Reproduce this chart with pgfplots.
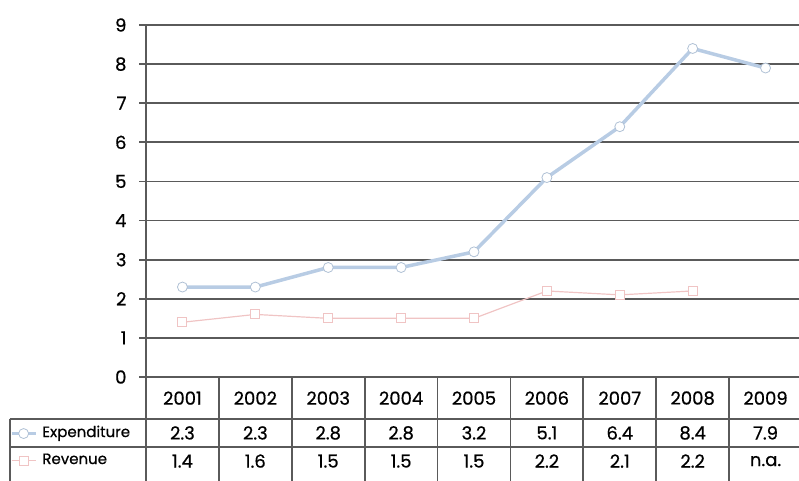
\documentclass[border=0pt]{standalone}
\usepackage{fontspec}
\setmainfont{Poppins}[FakeBold=0.6]
\usepackage{pgfplots}
\usepackage{pgfplotstable}
\pgfplotsset{compat=1.18}

\definecolor{expblue}{HTML}{B8CCE4}
\definecolor{revpink}{HTML}{F0C4C4}
\definecolor{gridgray}{HTML}{5A5A5A}

% year index, expenditure, revenue, and the labels shown in the table
\pgfplotstableread{
x year exp rev explab revlab
0 2001 2.3 1.4 2.3 1.4
1 2002 2.3 1.6 2.3 1.6
2 2003 2.8 1.5 2.8 1.5
3 2004 2.8 1.5 2.8 1.5
4 2005 3.2 1.5 3.2 1.5
5 2006 5.1 2.2 5.1 2.2
6 2007 6.4 2.1 6.4 2.1
7 2008 8.4 2.2 8.4 2.2
8 2009 7.9 nan 7.9 n.a.
}\budget

\begin{document}
\begin{tikzpicture}
\useasboundingbox (0,0) rectangle (799pt,480pt);
\begin{axis}[
    at={(146pt,103pt)}, anchor=south west,
    scale only axis, width=656pt, height=352pt,
    xmin=-0.5, xmax=8.5, ymin=0, ymax=9,
    clip=false,
    axis x line=none,
    axis y line*=left,
    y axis line style={draw=gridgray, line width=1.8pt},
    ytick={0,...,9},
    ymajorgrids,
    grid style={gridgray, line width=1.8pt},
    ytick style={gridgray, line width=1.8pt},
    tick align=outside, major tick length=7pt,
    /pgf/number format/assume math mode=true,
    yticklabel style={font=\fontsize{18}{18}\selectfont, xshift=-9pt},
    legend entries={Expenditure, Revenue},
    legend cell align=left,
    legend style={at={(axis description cs:-0.2078,-0.199)}, anchor=west,
        draw=none, fill=none, inner sep=0pt, row sep=15pt, column sep=5pt,
        font=\fontsize{15}{15}\selectfont,
        nodes={inner sep=0pt, text height=9.5pt, text depth=2.5pt}},
    legend image code/.code={\draw[mark repeat=2, mark phase=2, #1]
        plot coordinates {(0pt,0pt) (12pt,0pt) (24pt,0pt)};},
    nodes near coords style={anchor=center, font=\fontsize{18}{18}\selectfont},
]
\addplot[expblue, line width=3.5pt, mark=*, mark size=5pt,
    mark options={fill=white, draw=expblue!85!gray, line width=0.8pt}]
    table[x=x, y=exp] {\budget};
\addplot[revpink, line width=1.2pt, mark=square*, mark size=4.5pt,
    mark options={fill=white, draw=revpink, line width=1pt}]
    table[x=x, y=rev] {\budget};

% table rows under the plot
\addplot[forget plot, draw=none, mark=none, nodes near coords,
    point meta=explicit symbolic]
    table[x=x, y expr=-0.54, meta=year] {\budget};
\addplot[forget plot, draw=none, mark=none, nodes near coords,
    point meta=explicit symbolic]
    table[x=x, y expr=-1.43, meta=explab] {\budget};
\addplot[forget plot, draw=none, mark=none, nodes near coords,
    point meta=explicit symbolic]
    table[x=x, y expr=-2.15, meta=revlab] {\budget};

% table borders
\begin{scope}[gridgray, line width=1.8pt]
\pgfplotsinvokeforeach{-0.5,0.5,1.5,2.5,3.5,4.5,5.5,6.5,7.5,8.5}{
    \draw (axis cs:#1,0) -- (axis cs:#1,-2.75);
}
\draw (axis cs:-2.37,-1.07) -- (axis cs:8.5,-1.07);
\draw (axis cs:-2.37,-1.79) -- (axis cs:8.5,-1.79);
\draw (axis cs:-2.37,-1.07) -- (axis cs:-2.37,-2.75);
\end{scope}
\end{axis}
\end{tikzpicture}
\end{document}
